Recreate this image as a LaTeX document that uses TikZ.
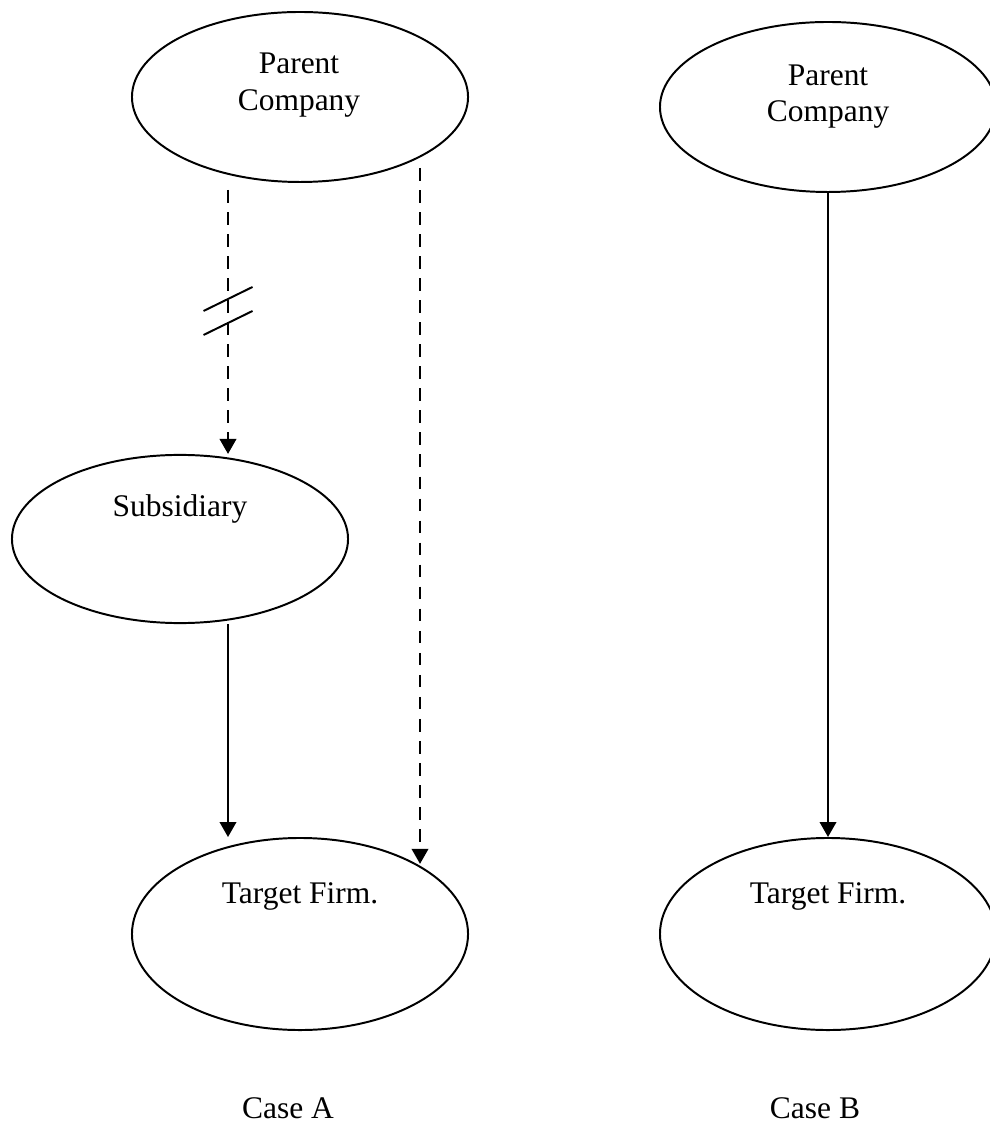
\documentclass[tikz,border=0pt]{standalone}
\usepackage{fontspec}
\setmainfont{Liberation Serif}
\usetikzlibrary{shapes.geometric,arrows.meta}
\tikzset{
  firm/.style 2 args={ellipse,draw=black,line width=0.75pt,inner sep=0pt,
    minimum width=#1,minimum height=#2},
  firmtext/.style={anchor=base,inner sep=0pt,align=center,
    font=\fontsize{12}{14.1}\selectfont},
  link/.style={line width=0.75pt,-{Triangle[length=5.7pt,width=6.3pt]}},
  cut/.style={link,dash pattern=on 4.8pt off 3.6pt}
}

\begin{document}
\begin{tikzpicture}[x=0.0134cm,y=-0.0134cm]
\useasboundingbox (0,0) rectangle (989,1126);

%% case A
\node[firm={128.1pt}{64.8pt}] (PcA) at (300,97) {};
\node[firm={128.1pt}{64.1pt}] (Sub) at (180,539) {};
\node[firm={128.1pt}{73.2pt}] (TgA) at (300,934) {};

\node[firmtext] (PcAtxt) at (299,111) {Parent\\Company};
\node[firmtext] (SubTxt) at (180,517) {Subsidiary};
\node[firmtext] (TgAtxt) at (300,903) {Target Firm.};
\node[firmtext] (CaseA) at (288,1118) {Case A};

\coordinate (DashA) at (228,190);
\coordinate (DashB) at (420,168);
\coordinate (Brk) at (228,323);

\draw[cut] (DashA) -- (DashA |- Sub.north);
\draw[line width=0.75pt] ([shift={(-24.5,12)}]Brk) -- +(49,-24);
\draw[line width=0.75pt] ([shift={(-24.5,-12)}]Brk) -- +(49,-24);
\draw[link] (Sub.south -| DashA) -- (DashA |- TgA.north);
\draw[cut] (DashB) -- (DashB |- TgA.31);

%% case B
\node[firm={128.1pt}{64.8pt}] (PcB) at (828,107) {};
\node[firm={128.1pt}{73.2pt}] (TgB) at (828,934) {};

\node[firmtext] (PcBtxt) at (828,122) {Parent\\Company};
\node[firmtext] (TgBtxt) at (828,903) {Target Firm.};
\node[firmtext] (CaseB) at (815,1118) {Case B};

\draw[link] (PcB.south) -- (TgB.north);

\end{tikzpicture}
\end{document}
